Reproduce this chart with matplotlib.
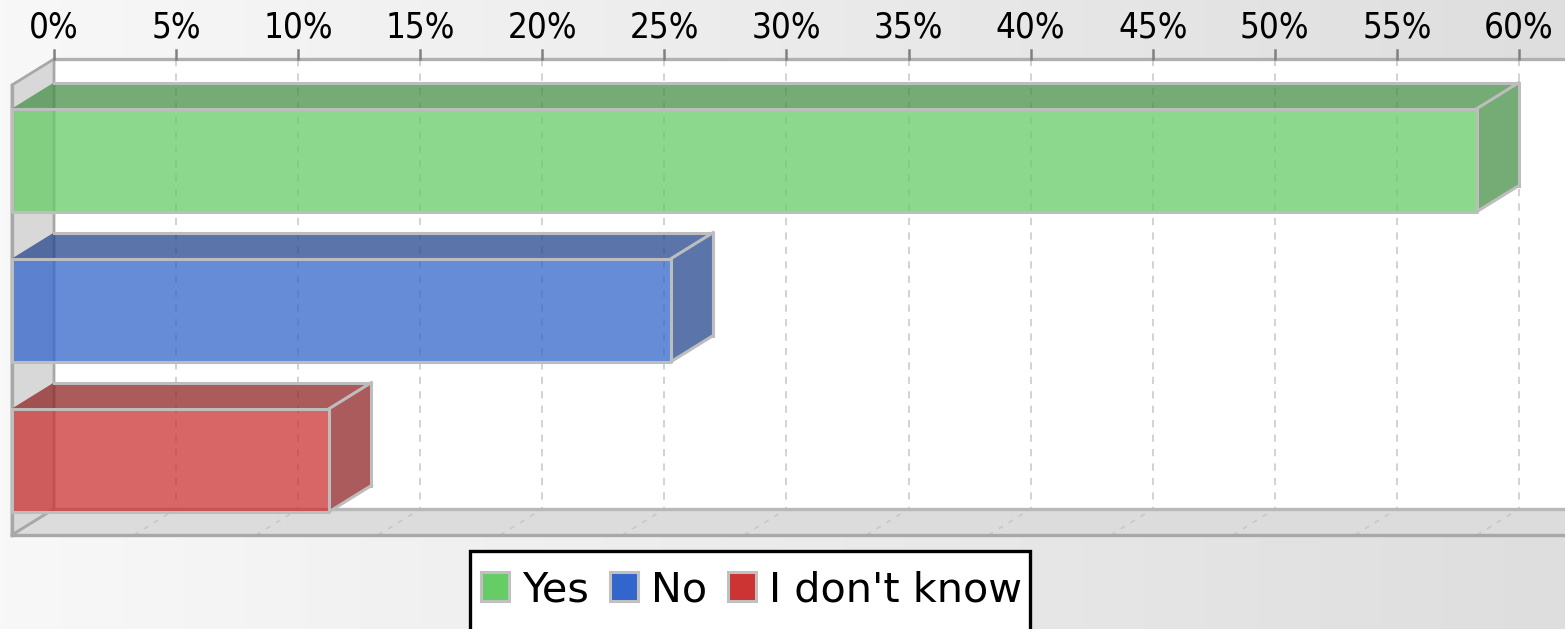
import matplotlib
matplotlib.use("Agg")
import matplotlib.pyplot as plt
import numpy as np
from matplotlib.patches import Polygon, Rectangle, Patch
from matplotlib.colors import LinearSegmentedColormap
from matplotlib.font_manager import FontProperties, findfont

# data
categories = ["Yes", "No", "I don't know"]
values = [60, 27, 13]          # percent
colors = ["#66cc66", "#3366cc", "#cc3333"]
dark = ["#478f47", "#24478f", "#8f2424"]
ticks = list(range(0, 61, 5))
tick_labels = [f"{t}%" for t in ticks]

# narrow face of DejaVu Sans if the system has it
FONT = "DejaVu Sans"
condensed = "Condensed" in findfont(FontProperties(family=FONT, stretch="condensed"))
STRETCH = "condensed" if condensed else "normal"
TICK_SIZE = 25 if condensed else 23

W, H = 1565, 629
fig = plt.figure(figsize=(W / 100, H / 100), dpi=100)
ax = fig.add_axes([0, 0, 1, 1])
ax.set_axis_off()

# layout (pixel based)
k = (1519 - 54) / 60.0      # px per percent
x0px = 12                   # front plane 0%
rowpx = 150.0               # px per category
top_px = 85                 # front plane top
dx = 42 / k
dy = 26 / rowpx
x_lo = -x0px / k
x_hi = (W - x0px) / k
y_lo = -0.5 - top_px / rowpx
y_hi = -0.5 + (H - top_px) / rowpx
ax.set_xlim(x_lo, x_hi)
ax.set_ylim(y_hi, y_lo)


def py(p):
    return y_lo + p / rowpx


n = len(categories)
ybot = n - 0.5
ytop = -0.5

# background gradient
cmap = LinearSegmentedColormap.from_list("bg", ["#f8f8f8", "#dedede"])
grad = np.linspace(0, 1, 256).reshape(1, -1)
ax.imshow(grad, cmap=cmap, extent=[x_lo, x_hi, y_hi, y_lo], aspect="auto", zorder=0)

# back wall
ax.add_patch(Rectangle((dx, ytop - dy), x_hi - dx, n, facecolor="white",
                       edgecolor="none", zorder=1))

# grid lines on back wall and floor
for t in ticks:
    ax.plot([t + dx, t + dx], [ytop - dy, ybot - dy], color="#cfcfcf",
            lw=1.3, ls=(0, (4, 4)), zorder=2)
    ax.plot([t, t + dx], [ybot, ybot - dy], color="#c8c8c8", lw=1.2,
            ls=(0, (3, 4)), zorder=3.5)

# left wall
ax.add_patch(Polygon([(0, ytop), (dx, ytop - dy), (dx, ybot - dy), (0, ybot)],
                     closed=True, facecolor="#d8d8d8", edgecolor="#a8a8a8",
                     lw=2, zorder=3))
# floor
ax.add_patch(Polygon([(0, ybot), (dx, ybot - dy), (x_hi, ybot - dy), (x_hi, ybot)],
                     closed=True, facecolor="#dcdcdc", edgecolor="none", zorder=3))
ax.plot([dx, x_hi], [ybot - dy, ybot - dy], color="#b8b8b8", lw=2.4, zorder=3.6)
ax.plot([0, x_hi], [ybot, ybot], color="#a8a8a8", lw=2.4, zorder=3.6)
ax.plot([0, 0], [ytop, ybot], color="#a8a8a8", lw=2.4, zorder=3.6)
ax.plot([0, dx], [ybot, ybot - dy], color="#a8a8a8", lw=2, zorder=3.6)

# bars
hh = 103 / rowpx / 2
for i, (v, c, d) in enumerate(zip(values, colors, dark)):
    yt, yb = i - hh, i + hh
    top = Polygon([(0, yt), (dx, yt - dy), (v + dx, yt - dy), (v, yt)], closed=True,
                  facecolor=d, alpha=0.75, edgecolor="none", zorder=4)
    side = Polygon([(v, yt), (v + dx, yt - dy), (v + dx, yb - dy), (v, yb)], closed=True,
                   facecolor=d, alpha=0.75, edgecolor="none", zorder=4)
    front = Rectangle((0, yt), v, yb - yt, facecolor=c, alpha=0.75,
                      edgecolor="none", zorder=4)
    for p in (top, side, front):
        ax.add_patch(p)
    ec = "#bdbdbd"
    ax.plot([0, v, v, 0, 0], [yt, yt, yb, yb, yt], color=ec, lw=2.2, zorder=5)
    ax.plot([dx, v + dx, v + dx], [yt - dy, yt - dy, yb - dy], color=ec, lw=2.2, zorder=4.5)
    ax.plot([v, v + dx], [yt, yt - dy], color=ec, lw=2.2, zorder=5)
    ax.plot([v, v + dx], [yb, yb - dy], color=ec, lw=2.2, zorder=5)

# top axis
ax.plot([dx, x_hi], [ytop - dy, ytop - dy], color="#b0b0b0", lw=2.4, zorder=6)
for t, lab in zip(ticks, tick_labels):
    ax.plot([t + dx, t + dx], [py(50), ytop - dy], color="#808080", lw=1.8, zorder=6)
    ax.text(t + dx, py(27), lab, ha="center", va="center", fontsize=TICK_SIZE,
            family=FONT, stretch=STRETCH, color="black", zorder=7)

# legend box (runs off the bottom edge like the original)
fig.patches.append(Rectangle((470 / W, -0.05), (1030 - 470) / W, 1 - 551 / H + 0.05,
                             transform=fig.transFigure, facecolor="white",
                             edgecolor="black", lw=2.4, zorder=8))
handles = [Patch(facecolor=c, edgecolor="#c0c0c0", lw=2.2) for c in colors]
leg = fig.legend(handles, categories, loc="center left", ncol=3,
                 bbox_to_anchor=(481 / W, 1 - 590 / H), bbox_transform=fig.transFigure,
                 borderaxespad=0, frameon=False, borderpad=0,
                 prop={"family": FONT, "size": 29.8},
                 handlelength=0.68, handleheight=0.68, handletextpad=0.3,
                 columnspacing=0.52)
leg.set_zorder(9)

fig.savefig("out.png", dpi=100)
